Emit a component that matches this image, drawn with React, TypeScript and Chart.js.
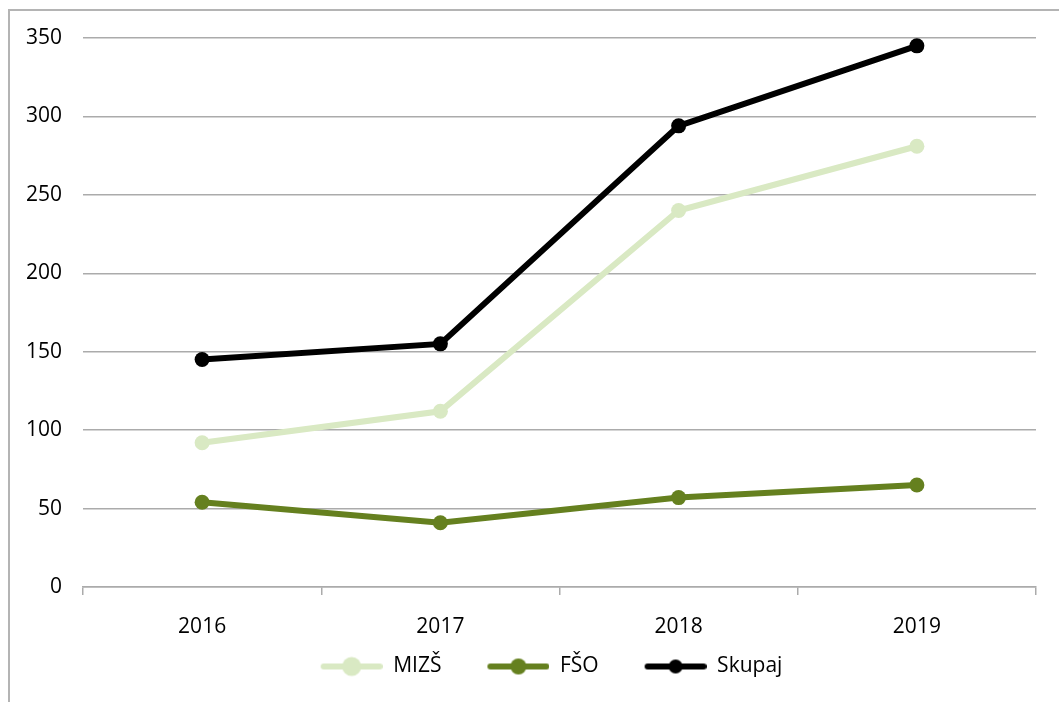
import React, { useEffect, useRef } from "react";
import { Chart, registerables } from "chart.js";

Chart.register(...registerables);

const categories = ["2016", "2017", "2018", "2019"];
const seriesNames = ["MIZŠ", "FŠO", "Skupaj"];
const mizsValues = [92, 112, 240, 281];
const fsoValues = [54, 41, 57, 65];
const skupajValues = [145, 155, 294, 345];
const yTicks = [0, 50, 100, 150, 200, 250, 300, 350];

const COLORS = ["#d9e9c3", "#65801f", "#000000"];
const FONT = "'Open Sans', 'Noto Sans', sans-serif";

function makeMarker(color: string, r: number, extra: number): HTMLCanvasElement {
  const c = document.createElement("canvas");
  const lineW = 62;
  c.width = lineW + extra;
  c.height = 22;
  const ctx = c.getContext("2d")!;
  ctx.strokeStyle = color;
  ctx.fillStyle = color;
  ctx.lineWidth = 6;
  ctx.lineCap = "round";
  ctx.beginPath();
  ctx.moveTo(extra + 3, 11);
  ctx.lineTo(extra + lineW - 3, 11);
  ctx.stroke();
  ctx.beginPath();
  ctx.arc(extra + lineW / 2, 11, r, 0, Math.PI * 2);
  ctx.fill();
  return c;
}

export default function App() {
  const canvasRef = useRef<HTMLCanvasElement | null>(null);

  useEffect(() => {
    if (!canvasRef.current) return;
    const extra = 34;
    const legendPad = 12;
    const leftPad = 10;
    const markers = [
      makeMarker(COLORS[0], 9.5, extra),
      makeMarker(COLORS[1], 8, extra),
      makeMarker(COLORS[2], 7, extra),
    ];
    const values = [mizsValues, fsoValues, skupajValues];
    const chart = new Chart(canvasRef.current, {
      type: "line",
      data: {
        labels: categories,
        datasets: seriesNames.map((name, i) => ({
          label: name,
          data: values[i],
          borderColor: COLORS[i],
          backgroundColor: COLORS[i],
          borderWidth: 6,
          pointRadius: 7.5,
          pointHoverRadius: 7.5,
          pointBorderWidth: 0,
          pointBackgroundColor: COLORS[i],
          tension: 0,
          fill: false,
          yAxisID: "y",
        })),
      },
      options: {
        responsive: false,
        animation: false,
        layout: { padding: { left: leftPad, right: 0, top: 38, bottom: 15 } },
        plugins: {
          tooltip: { enabled: false },
          legend: {
            position: "bottom",
            labels: {
              usePointStyle: true,
              pointStyleWidth: 62 + extra,
              padding: legendPad,
              color: "#000",
              font: { family: FONT, size: 21 },
              generateLabels: (ch: any) =>
                ch.data.datasets.map((ds: any, i: number) => ({
                  text: ds.label,
                  pointStyle: markers[i],
                  fillStyle: COLORS[i],
                  strokeStyle: COLORS[i],
                  lineWidth: 0,
                  hidden: false,
                  datasetIndex: i,
                  fontColor: "#000",
                })),
            },
          },
        },
        scales: {
          x: {
            offset: true,
            grid: {
              offset: true,
              drawOnChartArea: false,
              drawTicks: true,
              tickLength: 8,
              color: "#ababab",
              lineWidth: 1.5,
            },
            border: { display: true, color: "#ababab", width: 1.5 },
            ticks: { color: "#000", font: { family: FONT, size: 21 }, padding: 19 },
            afterFit: (s: any) => {
              s.height = 69 - legendPad;
            },
          },
          y: {
            min: 0,
            max: 350,
            afterBuildTicks: (s: any) => {
              s.ticks = yTicks.map((v) => ({ value: v }));
            },
            grid: { drawTicks: false, color: "#ababab", lineWidth: 1.5 },
            border: { display: false },
            ticks: { color: "#000", font: { family: FONT, size: 21 }, padding: 21 },
            afterFit: (s: any) => {
              s.width = 83 - leftPad;
            },
          },
          ySpacer: {
            position: "right",
            display: true,
            min: 0,
            max: 1,
            grid: { display: false, drawTicks: false },
            border: { display: false },
            ticks: { display: false },
            afterFit: (s: any) => {
              s.width = 23;
            },
          },
        },
      },
    });
    return () => chart.destroy();
  }, []);

  return (
    <div
      style={{
        position: "fixed",
        left: 0,
        top: 0,
        width: 1059,
        height: 702,
        overflow: "hidden",
        background: "#fff",
      }}
    >
      <div
        style={{
          position: "absolute",
          left: 8,
          top: 9,
          width: 1200,
          height: 900,
          borderLeft: "2px solid #b4b4b4",
          borderTop: "2px solid #b4b4b4",
        }}
      />
      <canvas
        ref={canvasRef}
        width={1059}
        height={702}
        style={{ position: "absolute", left: 0, top: 0, width: 1059, height: 702 }}
      />
    </div>
  );
}
